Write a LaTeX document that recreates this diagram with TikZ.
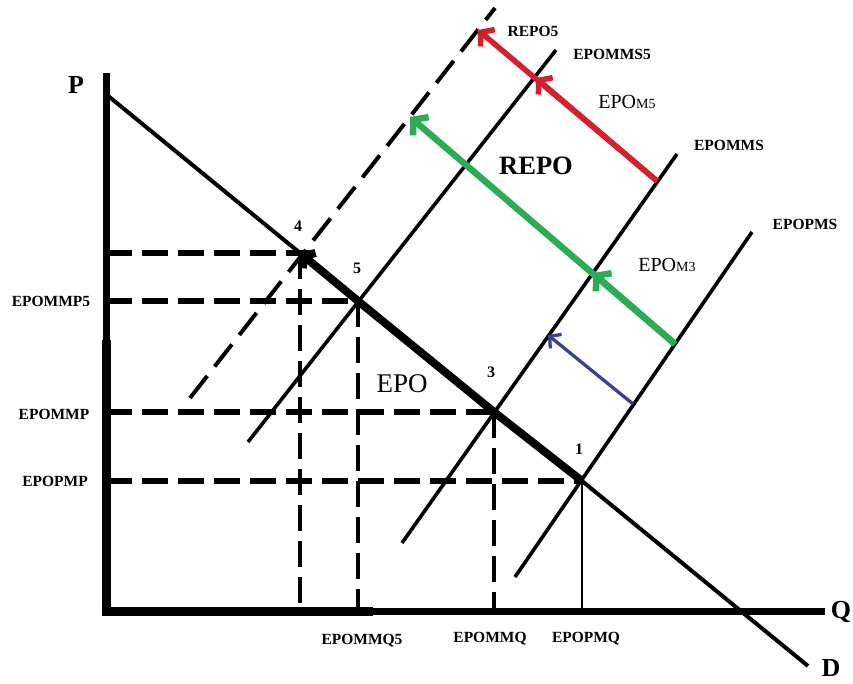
\documentclass[tikz,border=0pt]{standalone}
\usepackage{fontspec}
\setmainfont{Liberation Serif}
\usetikzlibrary{arrows.meta}
\definecolor{arrred}{RGB}{212,32,44}
\definecolor{arrgreen}{RGB}{44,172,84}
\definecolor{arrblue}{RGB}{58,64,150}
\begin{document}
\begin{tikzpicture}[x=1pt,y=-1pt,
  axisline/.style={line width=7pt},
  axisthick/.style={line width=9pt},
  curveline/.style={line width=3.6pt},
  demandline/.style={line width=4pt},
  guide/.style={line width=5.2pt, dash pattern=on 26pt off 10pt},
  vguide/.style={line width=4.3pt, dash pattern=on 26pt off 10pt},
  shiftdash/.style={line width=4pt, dash pattern=on 28pt off 12pt},
  smalllbl/.style={font=\bfseries\fontsize{15.5}{16}\selectfont, inner sep=0pt},
  axislbl/.style={font=\bfseries\fontsize{26}{26}\selectfont, inner sep=0pt},
  ptlbl/.style={font=\bfseries\fontsize{16}{16}\selectfont, inner sep=0pt},
  biglbl/.style={font=\fontsize{27}{27}\selectfont, inner sep=0pt},
  midlbl/.style={font=\fontsize{20}{20}\selectfont, inner sep=0pt},
  redarrow/.style={draw=arrred, line width=5.5pt, -{Straight Barb[length=9pt,width=22pt]}},
  greenarrow/.style={draw=arrgreen, line width=6.5pt, -{Straight Barb[length=10pt,width=24pt]}},
  bluearrow/.style={draw=arrblue, line width=3.3pt, -{Straight Barb[length=8pt,width=18pt]}},
  blackarrow/.style={line width=8pt, -{Straight Barb[length=7pt,width=20pt]}}
]
\useasboundingbox (0,0) rectangle (853,684);
\newcommand{\subs}[1]{{\fontsize{14}{14}\selectfont #1}}
% key points
\coordinate (O) at (106,611);
\coordinate (Ptop) at (106,73);
\coordinate (Vstep) at (106,340);
\coordinate (Hstep) at (373,611);
\coordinate (Qend) at (825,611);
\coordinate (Dtop) at (107,95);
\coordinate (Dend) at (808,666);
\coordinate (p4) at (300,253);
\coordinate (p5) at (358,301);
\coordinate (p3) at (494,412);
\coordinate (p1) at (582,481);
\coordinate (h4end) at (322,253);
% supply lines
\coordinate (s1a) at (515,577);
\coordinate (s1b) at (752,232);
\coordinate (s2a) at (402,543);
\coordinate (s2b) at (677,154);
\coordinate (s3a) at (248,442);
\coordinate (s3b) at (556,50);
\coordinate (s4a) at (190,398);
\coordinate (s4b) at (495,8);
% arrows
\coordinate (rt) at (657,181);
\coordinate (rm) at (536,78);
\coordinate (rh) at (478,30);
\coordinate (gt) at (675,344);
\coordinate (gm) at (593,273);
\coordinate (gh) at (410,117);
\coordinate (bt) at (633,404);
\coordinate (bh) at (548,335);

% guide lines
\draw[guide] (Ptop |- p4) -- (h4end);
\draw[guide] (Ptop |- p5) -- (p5);
\draw[guide] (Ptop |- p3) -- (p3);
\draw[guide] (Ptop |- p1) -- (p1);
\draw[vguide] (p4) -- (p4 |- O);
\draw[vguide] (p5) -- (p5 |- O);
\draw[vguide] (p3) -- (p3 |- O);
\draw[line width=2.7pt] (p1) -- (p1 |- O);

% supply curves
\draw[curveline] (s1a) -- (s1b);
\draw[curveline] (s2a) -- (s2b);
\draw[curveline] (s3a) -- (s3b);
\draw[shiftdash] (s4a) -- (s4b);

% demand
\draw[demandline] (Dtop) -- (p4);
\draw[demandline] (p1) -- (Dend);
\draw[blackarrow] (p1) -- (p3) -- (p5) -- (p4);

% shift arrows
\draw[bluearrow] (bt) -- (bh);
\draw[greenarrow] (gt) -- (gm);
\draw[greenarrow] (gt) -- (gh);
\draw[redarrow] (rt) -- (rm);
\draw[redarrow] (rt) -- (rh);

% axes
\draw[axisline] (Ptop) -- (Vstep);
\draw[axisthick] (Vstep) -- (O);
\draw[axisthick] ([xshift=-4.5pt]O) -- (Hstep);
\draw[axisline] (Hstep) -- (Qend);

% labels
\node[axislbl] (lP) at (76,85) {P};
\node[axislbl] (lQ) at (841,612) {Q};
\node[axislbl] (lD) at (831,668) {D};
\node[ptlbl] (l4) at (298,226) {4};
\node[ptlbl] (l5) at (357,268) {5};
\node[ptlbl] (l3) at (491,372) {3};
\node[ptlbl] (l1) at (579,449) {1};
\node[smalllbl] (lmp5) at (51,301) {EPOMMP5};
\node[smalllbl] (lmp) at (54,414) {EPOMMP};
\node[smalllbl] (lpp) at (55,481) {EPOPMP};
\node[smalllbl] (lmq5) at (362,641) {EPOMMQ5};
\node[smalllbl] (lmq) at (490,639) {EPOMMQ};
\node[smalllbl] (lpq) at (586,639) {EPOPMQ};
\node[smalllbl] (lrepo5) at (533,31) {REPO5};
\node[smalllbl] (lmms5) at (612,54) {EPOMMS5};
\node[smalllbl] (lmms) at (729,145) {EPOMMS};
\node[smalllbl] (lpms) at (805,224) {EPOPMS};
\node[font=\bfseries\fontsize{26.5}{27}\selectfont, inner sep=0pt] (lrepo) at (536,166) {REPO};
\node[biglbl] (lepo) at (402,384) {EPO};
\node[midlbl] (lm5) at (627,102) {EPO\subs{M5}};
\node[midlbl] (lm3) at (667,265) {EPO\subs{M3}};
\end{tikzpicture}
\end{document}
